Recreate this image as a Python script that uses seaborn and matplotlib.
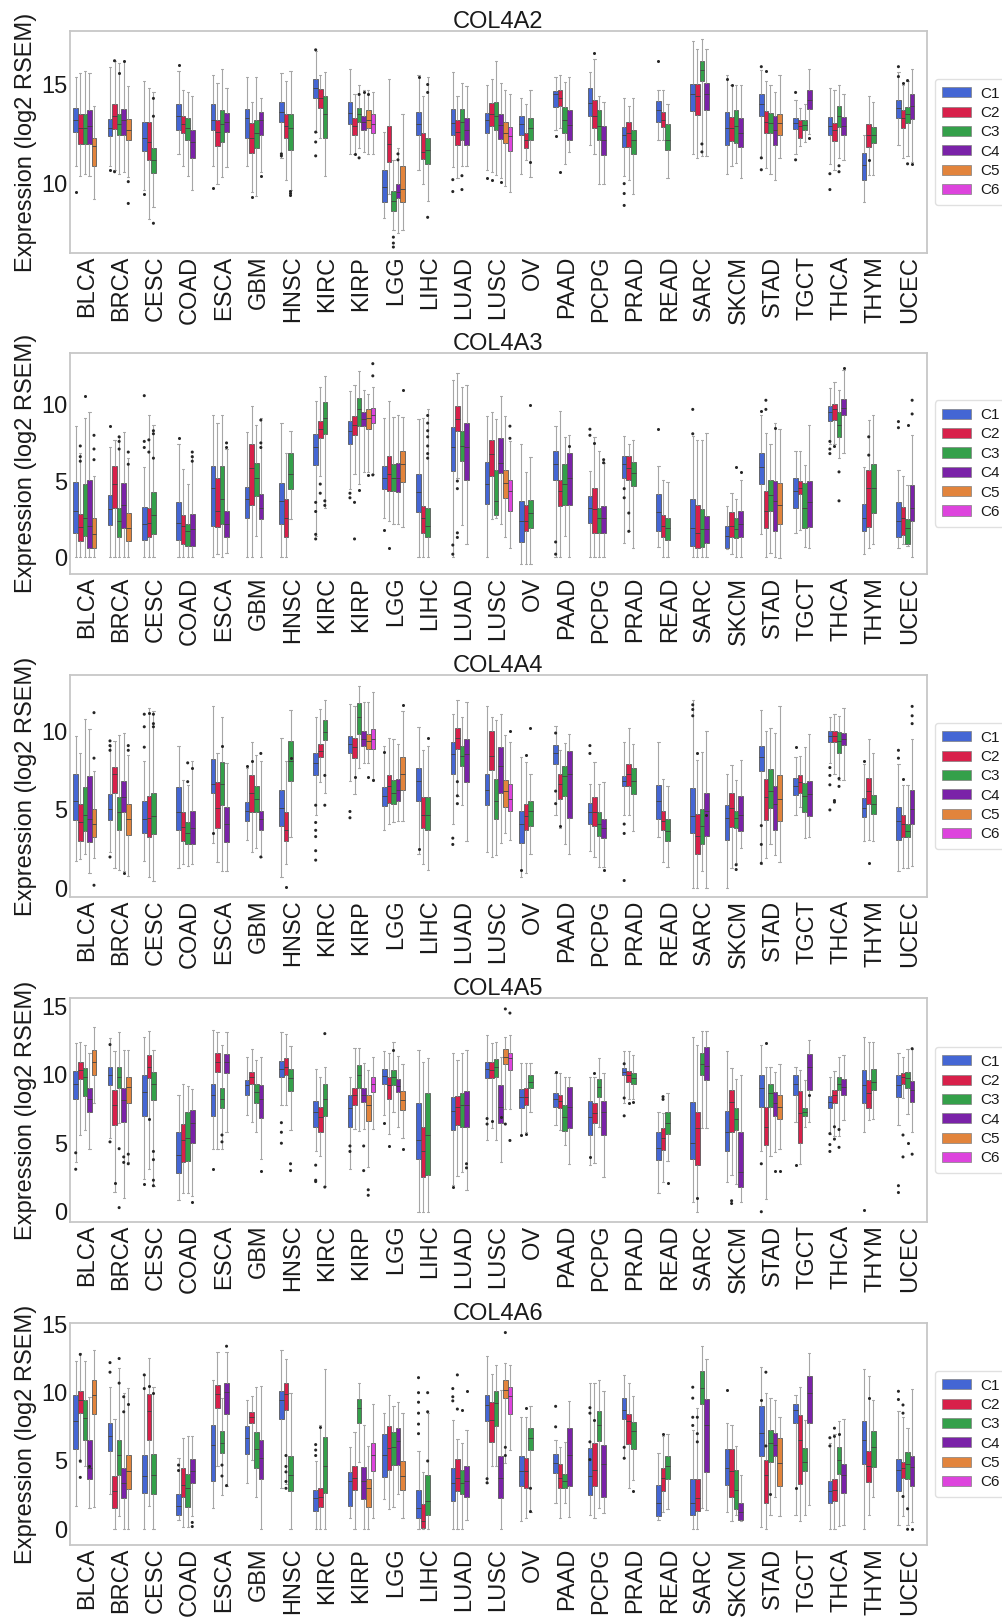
# Load libraries
import numpy as np
import pandas as pd
import seaborn as sns
import matplotlib
import matplotlib.pyplot as plt
from matplotlib.patches import Patch

matplotlib.use('Agg')

# Data
CANCERS = ['BLCA', 'BRCA', 'CESC', 'COAD', 'ESCA', 'GBM', 'HNSC', 'KIRC', 'KIRP',
           'LGG', 'LIHC', 'LUAD', 'LUSC', 'OV', 'PAAD', 'PCPG', 'PRAD', 'READ',
           'SARC', 'SKCM', 'STAD', 'TGCT', 'THCA', 'THYM', 'UCEC']
CLUSTERS = ['C1', 'C2', 'C3', 'C4', 'C5', 'C6']
COLORS = ['#4466d4', '#d8204a', '#34a04a', '#7a22a8', '#e2843c', '#dd44dd']
GENES = ['COL4A2', 'COL4A3', 'COL4A4', 'COL4A5', 'COL4A6']

# one list per cancer, one (lo, q1, median, q3, hi) tuple per cluster, C1 first
COL4A2_BOXES = [
    [(10.9, 12.6, 13.2, 13.8, 15.4), (10.4, 12.0, 12.8, 13.5, 15.6), (10.5, 12.0, 12.8, 13.5, 15.7), (10.4, 12.0, 12.9, 13.7, 15.6), (9.2, 10.9, 11.9, 12.3, 13.9)],
    [(10.9, 12.4, 12.8, 13.25, 15.9), (10.7, 12.75, 13.4, 14.0, 16.2), (10.5, 12.45, 13.0, 13.5, 16.1), (10.6, 12.45, 13.2, 13.75, 16.2), (10.35, 12.2, 12.7, 13.25, 14.9)],
    [(9.7, 11.65, 12.3, 13.1, 15.2), (8.2, 11.2, 12.1, 13.1, 14.8), (8.8, 10.55, 11.2, 11.8, 14.6)],
    [(11.5, 12.7, 13.4, 14.0, 15.7), (10.9, 12.55, 13.0, 13.4, 14.7), (10.4, 12.2, 12.8, 13.3, 14.6), (9.7, 11.3, 12.1, 12.7, 14.4)],
    [(10.9, 12.7, 13.2, 14.0, 15.5), (10.0, 11.9, 12.6, 13.2, 15.1), (10.35, 12.1, 13.0, 13.7, 15.8), (10.85, 12.6, 13.1, 13.55, 14.8)],
    [(10.9, 12.3, 13.3, 13.75, 15.4), (9.6, 11.55, 12.3, 13.05, 14.1), (9.4, 11.8, 12.55, 13.2, 15.4), (10.6, 12.45, 13.2, 13.6, 14.3)],
    [(11.3, 13.1, 13.6, 14.1, 15.6), (10.2, 12.3, 12.9, 13.5, 15.2), (9.7, 11.7, 12.8, 13.5, 15.7)],
    [(12.6, 14.3, 14.8, 15.3, 16.7), (12.3, 13.8, 14.3, 14.75, 15.5), (10.4, 12.3, 13.5, 14.4, 15.65)],
    [(11.5, 13.0, 13.55, 14.1, 15.8), (11.5, 12.45, 12.9, 13.3, 14.5), (11.8, 13.1, 13.5, 13.8, 15.0), (11.6, 12.7, 13.1, 13.4, 14.7), (11.5, 12.8, 13.2, 13.7, 14.7), (11.5, 12.55, 13.0, 13.5, 14.6)],
    [(8.25, 9.05, 9.85, 10.7, 12.6), (9.5, 11.1, 12.0, 12.9, 15.3), (7.65, 8.6, 9.1, 9.65, 11.2), (7.5, 9.25, 9.6, 10.0, 11.8), (7.65, 9.05, 9.75, 10.9, 13.5)],
    [(10.7, 12.45, 13.0, 13.6, 15.5), (10.0, 11.25, 11.6, 12.55, 14.4), (9.1, 11.0, 11.7, 12.3, 15.4)],
    [(10.85, 12.45, 13.05, 13.75, 15.65), (10.3, 11.95, 12.6, 13.2, 14.4), (10.9, 12.2, 13.1, 13.75, 15.1), (10.9, 11.95, 12.7, 13.3, 14.9)],
    [(10.7, 12.55, 13.2, 13.55, 15.0), (10.6, 12.9, 13.5, 14.05, 15.3), (10.45, 12.7, 13.4, 14.1, 16.2), (10.3, 12.25, 12.95, 13.5, 15.1), (9.9, 12.05, 12.55, 13.1, 14.7), (9.6, 11.65, 12.4, 12.85, 14.5)],
    [(10.5, 12.45, 13.0, 13.4, 14.3), (11.2, 11.8, 12.2, 12.55, 14.0), (10.35, 12.2, 12.8, 13.3, 14.7)],
    [(12.7, 13.85, 14.5, 14.65, 15.4), (12.8, 13.9, 14.3, 14.7, 15.5), (11.0, 12.55, 13.2, 13.85, 15.15), (11.6, 12.2, 12.95, 13.7, 15.4)],
    [(11.95, 13.4, 14.05, 14.8, 15.65), (11.5, 12.8, 13.4, 14.2, 16.3), (10.0, 12.2, 12.9, 13.7, 14.4), (10.0, 11.45, 12.2, 12.9, 14.1)],
    [(10.4, 11.85, 12.45, 12.85, 14.3), (10.2, 11.85, 12.55, 13.1, 13.9), (9.5, 11.5, 12.2, 12.7, 14.3)],
    [(12.2, 13.1, 13.7, 14.15, 14.7), (12.2, 12.85, 13.2, 13.6, 14.7), (10.3, 11.7, 12.2, 13.0, 14.0)],
    [(11.5, 13.65, 14.5, 15.05, 17.2), (11.3, 13.45, 14.4, 15.05, 16.8), (11.4, 15.2, 15.75, 16.2, 17.3), (11.4, 13.7, 14.5, 15.1, 16.8)],
    [(10.5, 11.95, 12.8, 13.6, 15.5), (10.9, 12.15, 12.8, 13.35, 15.0), (11.05, 12.05, 12.9, 13.7, 15.0), (10.3, 11.85, 12.55, 13.3, 15.0)],
    [(11.3, 13.4, 14.0, 14.5, 15.75), (10.8, 12.55, 13.1, 13.65, 15.2), (10.5, 12.55, 13.05, 13.55, 15.0), (10.2, 11.95, 12.7, 13.4, 14.6), (11.3, 12.45, 13.05, 13.5, 15.5)],
    [(11.5, 12.75, 13.05, 13.3, 14.2), (11.9, 12.3, 12.9, 13.2, 13.8), (12.1, 12.7, 12.95, 13.2, 14.0), (12.5, 13.75, 14.2, 14.7, 15.8)],
    [(11.0, 12.45, 12.9, 13.35, 14.8), (10.7, 12.15, 12.7, 13.05, 14.7), (11.3, 12.85, 13.4, 13.9, 15.0), (11.2, 12.45, 12.9, 13.35, 14.5)],
    [(9.05, 10.2, 10.95, 11.55, 12.45), (10.45, 11.85, 12.45, 13.0, 14.4), (10.45, 12.05, 12.45, 12.85, 14.1)],
    [(11.95, 13.3, 13.8, 14.2, 15.65), (11.3, 12.8, 13.3, 13.7, 15.0), (11.4, 13.05, 13.5, 13.85, 15.2), (11.1, 13.25, 13.9, 14.5, 15.8)],
]

COL4A3_BOXES = [
    [(0, 1.6, 3.05, 4.95, 8.6), (0, 1.05, 2.0, 2.85, 6.85), (0, 1.4, 2.6, 4.8, 9.15), (0, 0.6, 2.05, 5.05, 9.5), (0, 0.6, 1.5, 2.6, 5.3)],
    [(0, 2.1, 3.15, 4.1, 7.2), (0, 3.25, 4.8, 6.0, 7.7), (0, 1.35, 2.4, 3.25, 7.9), (0, 1.95, 3.45, 4.9, 8.2), (0, 1.05, 1.95, 2.9, 6.5)],
    [(0, 1.1, 2.15, 3.3, 5.9), (0, 1.3, 2.25, 3.25, 9.3), (0, 1.5, 2.8, 4.25, 8.7)],
    [(0, 1.1, 2.25, 3.65, 7.4), (0, 0.85, 2.05, 2.8, 5.8), (0, 0.75, 1.7, 2.2, 4.8), (0, 0.75, 1.85, 2.85, 6.6)],
    [(0, 2.05, 4.55, 6.0, 9.35), (0.2, 2.0, 3.05, 5.2, 8.8), (0, 2.15, 3.8, 6.0, 9.35), (0.3, 1.3, 2.15, 3.05, 7.1)],
    [(0, 2.6, 3.8, 4.6, 8.2), (0, 3.45, 5.85, 7.45, 9.9), (1.4, 4.0, 5.2, 6.2, 8.7), (0, 2.5, 3.25, 4.15, 9.15)],
    [(0, 2.15, 3.7, 4.9, 8.8), (0, 1.3, 2.6, 3.8, 6.85), (2.5, 4.5, 5.45, 6.85, 8.25)],
    [(1.4, 6.05, 7.2, 8.1, 10.25), (5.3, 7.8, 8.4, 8.95, 11.2), (3.25, 8.1, 9.15, 10.2, 11.9)],
    [(4.45, 7.4, 8.3, 8.95, 10.9), (5.45, 8.05, 8.7, 9.25, 11.3), (4.8, 8.6, 9.7, 10.45, 12.2), (5.6, 8.6, 9.05, 9.5, 11.0), (5.6, 8.4, 9.15, 9.7, 10.7), (5.45, 8.8, 9.35, 9.8, 11.2)],
    [(2.6, 4.45, 5.2, 6.0, 9.15), (2.4, 4.35, 5.45, 6.65, 10.25), (2.2, 4.35, 5.2, 6.1, 9.2), (2.2, 4.25, 5.2, 6.15, 9.3), (2.0, 4.95, 6.1, 7.0, 9.2)],
    [(0, 2.95, 4.25, 5.45, 9.05), (0, 1.6, 2.6, 3.35, 9.15), (0, 1.3, 2.05, 3.25, 9.7)],
    [(0, 5.65, 7.2, 8.55, 11.65), (5.2, 8.25, 9.05, 9.9, 12.1), (2.1, 6.3, 7.3, 8.25, 11.2), (0.85, 5.1, 7.2, 8.8, 11.3)],
    [(0, 3.5, 4.8, 6.25, 9.25), (2.5, 5.35, 6.75, 7.7, 9.5), (2.6, 2.75, 3.7, 5.7, 9.05), (2.2, 5.55, 6.2, 7.8, 10.55), (1.3, 3.9, 4.9, 5.7, 9.25), (0.6, 3.05, 4.35, 5.1, 7.6)],
    [(-0.45, 1.0, 2.4, 3.7, 7.4), (-0.45, 1.7, 2.4, 3.45, 5.6), (-0.45, 1.95, 2.9, 3.75, 6.6)],
    [(0, 5.05, 6.1, 6.95, 8.6), (0, 3.35, 4.35, 5.05, 9.6), (1.4, 3.45, 4.8, 6.1, 7.9), (0, 3.45, 5.2, 6.85, 8.0)],
    [(0, 2.25, 3.25, 4.0, 5.65), (0, 1.6, 3.15, 4.55, 7.9), (0, 1.6, 2.6, 3.2, 7.0), (0, 1.6, 2.6, 3.35, 6.2)],
    [(0.95, 5.2, 6.1, 6.65, 7.95), (1.7, 5.1, 5.85, 6.65, 7.4), (0.6, 4.65, 5.55, 6.25, 7.7)],
    [(0.65, 1.75, 2.95, 4.15, 6.0), (0, 1.3, 2.05, 2.8, 5.05), (0, 1.1, 1.95, 2.6, 4.95)],
    [(0, 0.75, 1.95, 3.8, 7.95), (0, 0.6, 1.6, 3.45, 7.7), (0, 0.65, 1.85, 3.15, 7.7), (0, 0.95, 1.85, 2.7, 8.15)],
    [(0.55, 0.6, 1.4, 2.05, 3.35), (0.2, 1.3, 2.05, 3.0, 4.2), (0, 1.25, 1.85, 2.6, 3.8), (0, 1.35, 2.15, 3.05, 5.1)],
    [(1.5, 4.8, 5.9, 6.85, 9.35), (0, 1.9, 3.05, 4.35, 8.15), (0.3, 3.05, 4.1, 5.1, 7.4), (0, 1.75, 3.7, 5.0, 8.8), (-0.05, 2.15, 3.45, 4.9, 8.4)],
    [(1.6, 3.2, 4.35, 5.2, 7.0), (1.8, 4.15, 4.55, 5.0, 7.0), (0.7, 1.95, 3.25, 4.9, 6.05), (0.6, 2.0, 3.6, 5.0, 8.7)],
    [(7.4, 8.95, 9.5, 9.9, 11.1), (7.4, 9.0, 9.7, 10.05, 11.5), (6.5, 7.9, 8.7, 9.5, 10.95), (6.85, 9.3, 9.8, 10.35, 12.3)],
    [(0.2, 1.7, 2.6, 3.5, 5.9), (0.6, 2.0, 4.55, 5.75, 9.0), (0.85, 2.9, 4.55, 6.1, 9.3)],
    [(0.6, 1.35, 2.4, 3.65, 5.75), (0.85, 1.45, 2.6, 3.3, 5.3), (0.75, 0.85, 1.95, 2.5, 4.75), (0, 2.4, 3.25, 4.75, 8.0)],
]

COL4A4_BOXES = [
    [(1.75, 4.35, 5.55, 7.3, 9.7), (1.85, 3.0, 4.2, 5.35, 8.65), (2.2, 3.65, 4.7, 6.45, 10.8), (1.0, 2.95, 4.4, 7.15, 10.15), (1.95, 3.25, 4.1, 5.05, 7.5)],
    [(2.3, 4.35, 5.05, 6.0, 9.1), (1.3, 6.1, 7.3, 7.75, 9.4), (1.2, 3.75, 4.85, 5.85, 9.8), (1.1, 4.85, 5.8, 6.85, 9.9), (0.8, 3.4, 4.4, 5.35, 8.5)],
    [(1.75, 3.5, 4.4, 5.55, 8.1), (0.7, 3.25, 4.5, 5.9, 11.5), (0.5, 3.45, 4.6, 6.05, 11.3)],
    [(1.3, 3.75, 4.85, 6.45, 9.1), (1.55, 3.0, 3.9, 4.85, 6.9), (1.45, 2.8, 3.55, 4.25, 6.6), (1.55, 2.8, 3.85, 4.95, 8.1)],
    [(2.9, 6.1, 6.65, 8.25, 11.6), (1.7, 3.85, 5.15, 6.75, 8.6), (1.1, 5.3, 6.65, 8.05, 10.9), (1.1, 2.95, 4.1, 5.2, 8.0)],
    [(3.1, 4.3, 4.95, 5.5, 7.7), (2.35, 4.85, 6.1, 7.25, 9.3), (2.55, 4.85, 5.7, 6.55, 8.5), (2.0, 3.75, 4.4, 4.95, 8.1)],
    [(0.7, 4.0, 5.15, 6.3, 9.6), (1.55, 3.0, 3.75, 4.85, 8.1), (3.25, 6.85, 8.1, 9.4, 11.4)],
    [(4.7, 7.25, 8.0, 8.65, 10.9), (6.8, 8.4, 8.75, 9.2, 11.45), (6.1, 9.45, 9.95, 10.7, 12.0)],
    [(6.85, 8.65, 9.2, 9.7, 11.75), (6.0, 8.3, 9.0, 9.6, 11.65), (7.7, 9.85, 10.9, 11.8, 12.9), (8.0, 9.1, 9.55, 10.05, 11.9), (8.0, 8.9, 9.4, 9.85, 11.9), (7.0, 8.9, 9.5, 10.15, 12.5)],
    [(3.75, 5.25, 5.9, 6.45, 9.1), (4.1, 5.45, 6.55, 7.25, 9.6), (4.2, 5.35, 6.1, 6.9, 9.5), (4.3, 5.6, 6.25, 7.0, 9.2), (4.3, 6.25, 7.3, 8.35, 11.3)],
    [(2.2, 5.55, 6.85, 7.7, 10.3), (1.55, 3.85, 4.7, 5.8, 8.8), (1.2, 3.7, 4.7, 5.85, 9.1)],
    [(4.1, 7.3, 8.55, 9.35, 11.1), (5.9, 8.9, 9.6, 10.2, 12.0), (5.3, 7.8, 8.45, 9.1, 10.9), (3.0, 6.75, 8.55, 9.5, 11.9)],
    [(2.3, 5.3, 6.3, 7.3, 11.6), (2.0, 7.55, 8.45, 10.0, 10.95), (2.1, 4.4, 5.6, 7.0, 10.7), (2.9, 6.05, 7.8, 9.0, 11.1), (3.5, 5.2, 6.2, 6.9, 9.8), (3.1, 4.9, 5.7, 6.65, 9.35)],
    [(0.7, 2.9, 4.1, 4.95, 8.35), (1.0, 3.7, 4.6, 5.35, 8.05), (2.2, 4.0, 4.95, 5.6, 7.3)],
    [(4.7, 7.9, 8.65, 9.15, 10.35), (3.85, 5.7, 6.65, 7.3, 8.8), (2.8, 5.9, 7.15, 7.8, 9.25), (2.2, 4.5, 7.3, 8.75, 9.85)],
    [(2.4, 4.1, 4.85, 5.45, 6.65), (2.0, 3.95, 4.85, 5.8, 8.05), (1.35, 3.35, 4.1, 4.85, 6.65), (1.35, 3.2, 3.85, 4.4, 6.75)],
    [(4.7, 6.55, 6.85, 7.15, 9.3), (4.7, 6.55, 7.3, 7.9, 10.2), (3.65, 6.0, 6.85, 7.7, 9.2)],
    [(3.25, 4.4, 5.6, 6.6, 9.3), (1.7, 3.7, 4.3, 4.95, 7.0), (1.35, 3.05, 3.65, 4.45, 6.5)],
    [(0, 3.5, 4.6, 6.4, 12.0), (0, 2.2, 3.35, 4.75, 8.2), (1.1, 2.8, 4.0, 5.05, 8.7), (0, 3.35, 4.95, 6.1, 10.0)],
    [(0, 3.1, 4.5, 5.3, 7.3), (1.3, 3.9, 5.15, 6.05, 7.85), (1.6, 3.85, 4.5, 4.95, 6.9), (2.6, 3.65, 4.7, 5.9, 8.2)],
    [(1.55, 7.5, 8.35, 9.1, 11.4), (1.95, 4.35, 5.8, 6.95, 10.0), (2.8, 5.15, 6.2, 7.6, 10.2), (2.1, 3.75, 5.35, 6.55, 9.9), (1.65, 4.3, 5.7, 7.25, 11.6)],
    [(4.7, 5.95, 6.5, 7.05, 8.35), (5.2, 6.1, 6.75, 7.25, 8.45), (3.2, 4.85, 5.9, 6.7, 9.0), (3.25, 4.6, 6.0, 6.85, 9.85)],
    [(8.0, 9.3, 9.7, 10.05, 10.9), (7.3, 9.3, 9.7, 10.05, 11.1), (6.9, 8.65, 9.4, 9.95, 11.0), (6.9, 9.15, 9.5, 9.9, 11.5)],
    [(3.0, 4.55, 5.15, 5.75, 7.9), (3.1, 5.35, 6.2, 7.05, 9.5), (3.0, 4.75, 5.35, 5.95, 8.6)],
    [(1.1, 3.1, 4.3, 5.2, 7.9), (1.3, 3.3, 4.1, 4.7, 6.6), (1.3, 3.25, 3.65, 4.1, 6.6), (1.4, 4.1, 5.05, 6.3, 9.5)],
]

COL4A5_BOXES = [
    [(3.65, 8.2, 9.35, 10.25, 12.3), (5.6, 9.7, 10.35, 10.9, 12.4), (5.95, 8.45, 9.8, 10.5, 12.15), (4.6, 7.25, 8.25, 9.0, 11.55), (7.9, 9.95, 10.9, 11.8, 13.5)],
    [(5.35, 9.25, 10.0, 10.6, 12.65), (1.45, 6.35, 7.8, 8.9, 11.7), (6.5, 9.0, 9.85, 10.6, 13.1), (1.0, 6.55, 8.15, 9.0, 11.8), (3.6, 7.9, 9.1, 9.8, 11.8)],
    [(2.4, 7.0, 8.75, 10.0, 12.75), (3.1, 9.75, 10.6, 11.45, 13.2), (1.9, 8.15, 9.35, 10.2, 11.8)],
    [(0.85, 2.8, 4.15, 5.8, 8.5), (1.4, 3.65, 5.25, 6.4, 9.3), (1.4, 3.7, 5.35, 7.25, 9.2), (1.15, 5.05, 6.45, 7.4, 8.95)],
    [(4.6, 7.0, 8.55, 9.3, 13.25), (4.6, 10.2, 10.9, 11.55, 13.1), (4.6, 7.6, 8.25, 9.0, 12.2), (5.8, 10.15, 10.9, 11.5, 13.1)],
    [(7.05, 8.5, 9.25, 9.6, 11.3), (6.55, 9.35, 9.85, 10.2, 11.9), (5.8, 7.9, 8.75, 9.35, 11.05), (3.85, 6.85, 8.25, 9.25, 11.3)],
    [(7.8, 9.8, 10.45, 11.0, 13.15), (7.8, 9.95, 10.6, 11.2, 13.0), (5.95, 8.8, 9.75, 10.4, 12.1)],
    [(4.4, 6.2, 7.3, 8.1, 10.45), (4.1, 5.8, 6.95, 7.65, 9.8), (1.9, 7.0, 8.25, 9.3, 10.55)],
    [(3.15, 6.2, 7.55, 8.5, 9.85), (6.05, 7.8, 8.5, 9.0, 11.95), (5.9, 9.05, 10.0, 10.7, 11.95), (6.05, 8.0, 8.5, 9.0, 10.85), (3.25, 6.6, 7.8, 8.55, 10.35), (6.05, 8.75, 9.35, 9.85, 11.3)],
    [(7.05, 9.35, 9.9, 10.4, 11.7), (5.7, 8.25, 9.25, 9.85, 11.6), (7.3, 9.25, 9.85, 10.35, 12.4), (6.2, 8.75, 9.2, 9.7, 11.4), (5.4, 7.4, 8.15, 8.8, 10.8)],
    [(0, 3.85, 5.25, 7.9, 11.8), (0, 2.55, 4.45, 6.2, 10.95), (0, 2.65, 5.6, 8.7, 11.2)],
    [(1.95, 5.95, 7.35, 8.4, 11.55), (2.6, 6.3, 7.65, 8.45, 11.1), (2.9, 6.2, 7.8, 8.65, 11.55), (1.55, 6.15, 7.8, 8.8, 11.8)],
    [(5.25, 9.75, 10.45, 10.9, 12.9), (6.1, 9.75, 10.35, 10.9, 12.3), (5.25, 9.8, 10.6, 11.15, 12.4), (3.65, 6.45, 7.65, 9.25, 11.3), (7.5, 10.75, 11.3, 11.85, 12.75), (7.5, 10.35, 11.2, 11.6, 12.9)],
    [(5.6, 7.6, 8.4, 8.95, 10.85), (5.8, 7.8, 8.4, 9.0, 10.85), (7.3, 9.05, 9.5, 10.0, 10.85)],
    [(6.3, 7.65, 8.25, 8.65, 10.1), (5.95, 7.6, 8.05, 8.5, 10.1), (4.9, 5.9, 6.95, 7.8, 9.85), (3.45, 6.1, 7.65, 9.1, 9.85)],
    [(3.4, 5.6, 6.95, 8.05, 9.85), (3.55, 6.45, 7.2, 7.9, 9.85), (6.2, 8.4, 9.1, 9.7, 11.2), (2.5, 5.6, 7.3, 8.1, 10.1)],
    [(7.9, 9.95, 10.2, 10.5, 11.7), (8.25, 9.45, 9.95, 10.25, 11.7), (8.25, 9.35, 9.75, 10.1, 11.45)],
    [(1.35, 3.75, 4.65, 5.85, 7.3), (2.2, 4.5, 5.35, 6.1, 7.2), (3.7, 5.65, 6.45, 7.25, 8.7)],
    [(0.7, 3.85, 5.05, 8.0, 12.75), (0, 3.4, 6.1, 7.3, 12.2), (6.1, 9.95, 10.8, 11.55, 13.2), (6.1, 9.6, 10.65, 12.05, 13.2)],
    [(2.2, 4.4, 5.85, 7.35, 11.7), (2.7, 5.85, 8.0, 8.9, 10.5), (2.0, 5.95, 6.8, 7.6, 9.7), (0.7, 1.8, 2.9, 5.8, 9.95)],
    [(4.4, 7.65, 9.0, 10.0, 12.15), (0.9, 4.85, 6.2, 7.65, 10.55), (4.1, 7.65, 8.65, 9.35, 10.55), (4.35, 7.0, 7.9, 8.75, 10.2), (4.6, 6.75, 7.65, 8.55, 10.8)],
    [(6.55, 8.55, 9.35, 9.95, 10.6), (3.5, 5.0, 7.2, 8.8, 10.35), (6.2, 7.0, 7.25, 7.55, 9.65), (6.55, 8.9, 10.6, 11.5, 12.5)],
    [(5.7, 7.55, 8.0, 8.45, 9.85), (5.5, 7.9, 8.55, 8.9, 10.3), (5.5, 8.9, 9.35, 9.8, 11.3), (6.7, 8.55, 9.1, 9.7, 11.45)],
    [(5.85, 7.9, 9.25, 10.35, 12.75), (6.7, 7.6, 8.65, 9.6, 12.4), (6.8, 8.9, 9.5, 10.45, 12.4)],
    [(6.3, 8.4, 9.25, 9.95, 11.55), (8.3, 9.3, 9.8, 10.1, 11.3), (7.1, 9.0, 9.75, 10.2, 11.9), (5.85, 8.0, 8.9, 9.55, 11.9)],
]

COL4A6_BOXES = [
    [(1.7, 5.85, 7.95, 9.85, 12.3), (4.95, 8.5, 9.5, 10.15, 12.9), (4.6, 6.5, 8.15, 9.5, 12.3), (1.55, 3.65, 4.45, 6.55, 9.7), (1.6, 8.45, 9.85, 10.95, 13.15)],
    [(2.55, 5.7, 6.8, 7.8, 10.45), (0, 1.55, 2.8, 3.9, 8.1), (1.0, 3.95, 5.45, 6.55, 11.8), (0, 2.3, 3.4, 4.5, 10.0), (0, 2.95, 4.25, 5.45, 10.35)],
    [(0, 2.65, 3.9, 5.45, 11.3), (1.7, 6.55, 8.65, 9.9, 12.55), (0, 2.6, 3.95, 5.5, 10.45)],
    [(0.7, 1.05, 1.7, 2.6, 5.2), (0.2, 2.35, 3.25, 4.45, 6.7), (0.2, 1.6, 3.0, 4.05, 6.8), (0.95, 3.4, 4.25, 5.15, 6.8)],
    [(1.55, 3.55, 6.2, 7.6, 10.95), (4.6, 8.9, 9.9, 10.55, 13.0), (2.5, 5.6, 6.3, 7.2, 9.6), (3.2, 8.45, 10.05, 10.7, 13.0)],
    [(3.4, 5.5, 6.65, 7.55, 9.5), (5.1, 7.8, 8.2, 8.55, 9.75), (2.4, 4.45, 5.9, 7.15, 10.45), (0, 3.65, 5.2, 6.55, 10.5)],
    [(3.0, 8.1, 9.5, 10.15, 13.15), (3.3, 8.75, 9.9, 10.7, 12.5), (0, 2.8, 4.0, 5.35, 10.0)],
    [(0, 1.35, 2.3, 2.9, 5.0), (0, 1.6, 2.35, 3.0, 7.6), (0, 2.65, 4.6, 6.75, 11.75)],
    [(0.8, 1.7, 3.5, 4.2, 6.05), (0, 2.85, 3.75, 4.6, 7.1), (4.9, 7.8, 8.9, 9.55, 10.7), (0, 2.25, 3.5, 4.55, 7.6), (0, 1.6, 3.0, 3.65, 6.1), (0.8, 4.25, 5.45, 6.3, 9.2)],
    [(2.2, 3.8, 5.45, 6.95, 8.5), (1.5, 4.35, 5.95, 7.55, 9.85), (1.6, 4.7, 6.05, 7.1, 9.0), (2.6, 4.7, 6.45, 7.4, 9.3), (0.8, 2.9, 3.9, 5.0, 8.5)],
    [(0, 0.8, 1.55, 2.85, 5.7), (0, 0.1, 0.6, 1.85, 4.2), (0, 1.05, 2.05, 3.95, 8.5)],
    [(0, 2.05, 3.4, 4.5, 8.0), (0, 2.8, 3.75, 5.15, 6.6), (0, 2.55, 3.4, 4.35, 6.3), (0.7, 2.35, 3.5, 4.6, 7.3)],
    [(3.4, 7.9, 9.1, 9.85, 12.65), (4.6, 6.4, 8.0, 9.3, 11.4), (4.6, 7.55, 9.25, 10.15, 12.0), (0, 2.3, 3.75, 5.35, 10.2), (4.85, 9.6, 10.2, 10.95, 12.2), (5.8, 8.45, 9.75, 10.45, 12.0)],
    [(0.6, 3.15, 4.25, 5.35, 8.25), (0.85, 3.0, 4.25, 5.2, 8.25), (1.3, 5.8, 6.7, 7.4, 9.0)],
    [(1.9, 4.1, 4.85, 5.5, 6.55), (0.8, 3.05, 3.75, 4.75, 6.05), (1.9, 3.0, 3.5, 4.05, 6.4), (0.9, 3.15, 5.45, 7.4, 9.4)],
    [(1.05, 2.5, 3.9, 5.95, 10.7), (0.8, 3.15, 4.35, 6.3, 10.7), (1.55, 6.45, 7.65, 8.65, 10.95), (1.2, 2.35, 4.75, 6.2, 10.1)],
    [(5.2, 8.1, 8.75, 9.6, 11.3), (3.0, 6.25, 7.9, 8.45, 10.7), (3.6, 5.9, 7.2, 7.85, 9.75)],
    [(0.7, 0.95, 1.95, 3.25, 5.6), (1.3, 2.8, 3.75, 4.45, 6.8), (1.45, 3.65, 4.6, 5.35, 6.95)],
    [(0, 1.05, 1.95, 3.65, 7.3), (0, 1.35, 2.3, 3.65, 8.85), (1.55, 9.15, 10.35, 11.55, 13.4), (1.4, 4.2, 7.65, 9.55, 12.5)],
    [(1.3, 3.25, 4.5, 5.85, 7.8), (0.6, 2.35, 4.25, 5.85, 7.65), (1.05, 1.45, 2.9, 4.35, 6.1), (0.6, 0.7, 1.3, 1.95, 4.0)],
    [(0.2, 5.35, 7.05, 9.0, 11.9), (0, 1.9, 4.0, 5.1, 10.0), (1.05, 4.95, 6.3, 7.3, 9.6), (2.4, 5.35, 6.2, 7.05, 9.5), (0.95, 3.2, 4.85, 6.65, 8.2)],
    [(1.05, 7.8, 8.75, 9.2, 9.85), (0.6, 3.3, 6.55, 8.4, 10.45), (1.05, 4.25, 4.95, 5.95, 8.0), (1.8, 7.8, 10.0, 11.2, 12.9)],
    [(0, 1.95, 2.8, 3.5, 6.3), (0, 2.05, 2.9, 3.65, 7.0), (0.25, 4.05, 5.1, 6.0, 7.9), (0.35, 2.65, 4.0, 4.8, 8.05)],
    [(0, 4.75, 6.55, 7.95, 11.7), (1.05, 3.45, 4.6, 5.75, 11.2), (2.4, 4.55, 6.05, 7.2, 9.5)],
    [(0.35, 2.8, 4.35, 5.15, 8.65), (1.0, 3.75, 4.5, 4.95, 8.2), (0.3, 3.7, 4.75, 5.65, 7.4), (0.5, 3.2, 4.55, 5.35, 10.3)],
]

# outliers as (cancer, cluster, value)
COL4A2_FLIERS = [
    ('BLCA', 'C1', 9.6), ('BRCA', 'C1', 10.7), ('BRCA', 'C2', 10.6), ('BRCA', 'C2', 16.2),
    ('BRCA', 'C4', 16.2), ('BRCA', 'C5', 9.0), ('BRCA', 'C5', 10.1), ('BRCA', 'C3', 15.6),
    ('CESC', 'C1', 9.5), ('CESC', 'C3', 8.0), ('CESC', 'C3', 14.3), ('CESC', 'C3', 13.4),
    ('COAD', 'C1', 16.0), ('ESCA', 'C1', 9.8), ('GBM', 'C2', 9.3), ('GBM', 'C4', 10.4),
    ('HNSC', 'C1', 11.5), ('HNSC', 'C1', 11.4), ('HNSC', 'C3', 9.6), ('HNSC', 'C3', 9.5),
    ('HNSC', 'C3', 9.4), ('KIRC', 'C1', 16.75), ('KIRC', 'C1', 12.6), ('KIRC', 'C1', 12.1),
    ('KIRC', 'C1', 11.4), ('KIRP', 'C3', 14.5), ('KIRP', 'C4', 14.6), ('KIRP', 'C5', 14.5),
    ('KIRP', 'C2', 11.5), ('KIRP', 'C3', 11.3), ('LGG', 'C3', 7.0), ('LGG', 'C3', 7.3),
    ('LGG', 'C4', 11.5), ('LGG', 'C4', 11.2), ('LGG', 'C3', 6.8), ('LIHC', 'C1', 15.4),
    ('LIHC', 'C3', 15.0), ('LIHC', 'C3', 14.6), ('LIHC', 'C3', 8.3), ('LUAD', 'C1', 10.2),
    ('LUAD', 'C1', 9.6), ('LUAD', 'C3', 10.4), ('LUAD', 'C3', 9.7), ('LUSC', 'C1', 10.3),
    ('LUSC', 'C2', 10.2), ('LUSC', 'C4', 10.1), ('OV', 'C3', 11.1), ('PAAD', 'C1', 12.4),
    ('PAAD', 'C2', 10.6), ('PCPG', 'C2', 16.6), ('PRAD', 'C1', 10.0), ('PRAD', 'C1', 9.5),
    ('PRAD', 'C1', 8.9), ('READ', 'C1', 16.2), ('SARC', 'C3', 12.0), ('SARC', 'C3', 11.6),
    ('SKCM', 'C1', 15.3), ('SKCM', 'C2', 15.0), ('STAD', 'C1', 15.9), ('STAD', 'C1', 11.3),
    ('STAD', 'C1', 10.7), ('STAD', 'C2', 15.7), ('TGCT', 'C1', 14.6), ('TGCT', 'C1', 11.2),
    ('TGCT', 'C4', 12.3), ('THCA', 'C1', 10.5), ('THCA', 'C1', 9.7), ('THCA', 'C3', 10.9),
    ('THCA', 'C3', 10.6), ('THYM', 'C2', 11.2), ('UCEC', 'C1', 15.9), ('UCEC', 'C2', 15.1),
    ('UCEC', 'C1', 15.4), ('UCEC', 'C3', 15.2), ('UCEC', 'C3', 11.0), ('UCEC', 'C4', 11.0),
]

COL4A3_FLIERS = [
    ('BLCA', 'C3', 10.6), ('BLCA', 'C2', 6.6), ('BLCA', 'C2', 6.3), ('BLCA', 'C2', 7.3),
    ('BLCA', 'C5', 8.0), ('BLCA', 'C5', 7.1), ('BLCA', 'C5', 6.4), ('BRCA', 'C1', 8.6),
    ('BRCA', 'C3', 7.6), ('BRCA', 'C3', 7.9), ('BRCA', 'C3', 7.1), ('BRCA', 'C5', 6.9),
    ('BRCA', 'C5', 6.1), ('CESC', 'C1', 10.6), ('CESC', 'C1', 7.6), ('CESC', 'C1', 7.2),
    ('CESC', 'C2', 6.9), ('CESC', 'C2', 7.7), ('CESC', 'C3', 8.1), ('CESC', 'C3', 8.3),
    ('CESC', 'C3', 6.5), ('COAD', 'C1', 7.8), ('COAD', 'C4', 6.9), ('COAD', 'C4', 6.6),
    ('COAD', 'C4', 6.3), ('ESCA', 'C4', 7.5), ('ESCA', 'C4', 7.2), ('GBM', 'C4', 9.0),
    ('GBM', 'C4', 7.5), ('GBM', 'C4', 7.2), ('KIRC', 'C1', 3.0), ('KIRC', 'C1', 1.5),
    ('KIRC', 'C1', 1.2), ('KIRC', 'C1', 3.6), ('KIRC', 'C2', 4.8), ('KIRC', 'C2', 4.2),
    ('KIRC', 'C3', 3.7), ('KIRC', 'C3', 3.4), ('KIRP', 'C1', 4.2), ('KIRP', 'C1', 3.9),
    ('KIRP', 'C2', 3.6), ('KIRP', 'C2', 1.2), ('KIRP', 'C3', 4.4), ('KIRP', 'C6', 12.7),
    ('KIRP', 'C6', 11.9), ('KIRP', 'C5', 5.4), ('KIRP', 'C6', 5.4), ('LGG', 'C1', 1.8),
    ('LGG', 'C2', 0.6), ('LGG', 'C5', 11.0), ('LIHC', 'C3', 9.3), ('LIHC', 'C3', 8.8),
    ('LIHC', 'C3', 8.3), ('LIHC', 'C3', 7.9), ('LIHC', 'C3', 7.3), ('LIHC', 'C3', 6.8),
    ('LIHC', 'C3', 6.5), ('LUAD', 'C1', 0.8), ('LUAD', 'C1', 0.2), ('LUAD', 'C2', 5.0),
    ('LUAD', 'C2', 4.5), ('LUAD', 'C2', 1.6), ('LUAD', 'C2', 1.3), ('LUSC', 'C6', 8.6),
    ('LUSC', 'C6', 7.8), ('OV', 'C3', 10.0), ('PAAD', 'C1', 1.0), ('PAAD', 'C1', 0.2),
    ('PAAD', 'C4', 7.3), ('PCPG', 'C1', 8.4), ('PCPG', 'C1', 8.0), ('PCPG', 'C2', 7.5),
    ('PCPG', 'C4', 6.4), ('PCPG', 'C4', 6.2), ('PRAD', 'C1', 4.5), ('PRAD', 'C1', 3.9),
    ('PRAD', 'C2', 2.9), ('PRAD', 'C2', 1.7), ('READ', 'C1', 8.4), ('SARC', 'C1', 9.7),
    ('SARC', 'C1', 8.1), ('SKCM', 'C3', 5.9), ('SKCM', 'C4', 5.6), ('STAD', 'C1', 9.6),
    ('STAD', 'C2', 9.7), ('STAD', 'C2', 10.3), ('STAD', 'C4', 8.5), ('THCA', 'C1', 7.6),
    ('THCA', 'C1', 7.1), ('THCA', 'C1', 6.8), ('THCA', 'C2', 7.3), ('THCA', 'C3', 5.6),
    ('THCA', 'C3', 3.7), ('THCA', 'C4', 12.4), ('THYM', 'C2', 7.9), ('THYM', 'C2', 6.7),
    ('UCEC', 'C1', 8.9), ('UCEC', 'C1', 8.5), ('UCEC', 'C3', 8.7), ('UCEC', 'C4', 10.3),
    ('UCEC', 'C4', 9.4),
]

COL4A4_FLIERS = [
    ('BLCA', 'C5', 11.2), ('BLCA', 'C5', 0.2), ('BLCA', 'C5', 8.3), ('BRCA', 'C1', 9.4),
    ('BRCA', 'C1', 9.1), ('BRCA', 'C1', 8.8), ('BRCA', 'C1', 2.0), ('BRCA', 'C4', 1.0),
    ('BRCA', 'C5', 9.1), ('BRCA', 'C5', 8.8), ('CESC', 'C1', 11.1), ('CESC', 'C1', 10.3),
    ('CESC', 'C1', 9.0), ('CESC', 'C2', 11.2), ('CESC', 'C3', 11.1), ('CESC', 'C3', 10.5),
    ('CESC', 'C3', 10.3), ('COAD', 'C3', 8.0), ('COAD', 'C4', 7.7), ('COAD', 'C3', 6.8),
    ('ESCA', 'C1', 3.5), ('ESCA', 'C3', 9.1), ('GBM', 'C1', 7.8), ('GBM', 'C2', 8.1),
    ('GBM', 'C4', 2.0), ('GBM', 'C4', 8.6), ('HNSC', 'C2', 0.1), ('HNSC', 'C3', 8.3),
    ('KIRC', 'C1', 5.3), ('KIRC', 'C1', 4.2), ('KIRC', 'C1', 3.7), ('KIRC', 'C1', 3.3),
    ('KIRC', 'C1', 2.4), ('KIRC', 'C1', 1.8), ('KIRC', 'C3', 7.2), ('KIRC', 'C3', 5.3),
    ('KIRP', 'C1', 4.9), ('KIRP', 'C1', 4.5), ('KIRP', 'C2', 7.1), ('KIRP', 'C5', 7.1),
    ('KIRP', 'C6', 6.9), ('LGG', 'C1', 8.7), ('LGG', 'C5', 11.7), ('LIHC', 'C1', 2.5),
    ('LIHC', 'C3', 9.6), ('LUAD', 'C1', 3.2), ('LUAD', 'C1', 2.8), ('LUAD', 'C2', 6.8),
    ('LUAD', 'C2', 5.9), ('LUAD', 'C2', 5.4), ('LUSC', 'C6', 10.0), ('OV', 'C1', 1.2),
    ('OV', 'C3', 10.2), ('OV', 'C2', 8.5), ('PAAD', 'C1', 9.9), ('PAAD', 'C1', 6.2),
    ('PAAD', 'C1', 5.4), ('PAAD', 'C2', 4.0), ('PCPG', 'C1', 8.6), ('PCPG', 'C1', 9.1),
    ('PCPG', 'C4', 1.2), ('PRAD', 'C1', 0.5), ('PRAD', 'C1', 4.1), ('PRAD', 'C1', 3.5),
    ('SARC', 'C1', 11.7), ('SARC', 'C1', 11.4), ('SARC', 'C1', 11.0), ('SARC', 'C2', 8.6),
    ('SARC', 'C4', 4.7), ('SKCM', 'C3', 1.5), ('SKCM', 'C3', 1.2), ('STAD', 'C1', 2.8),
    ('STAD', 'C1', 1.6), ('STAD', 'C1', 4.0), ('TGCT', 'C1', 9.0), ('THCA', 'C1', 7.7),
    ('THCA', 'C1', 7.2), ('THCA', 'C1', 6.6), ('THCA', 'C2', 5.5), ('THCA', 'C3', 7.0),
    ('THCA', 'C3', 6.5), ('THCA', 'C2', 5.6), ('THCA', 'C1', 5.0), ('THYM', 'C1', 8.1),
    ('THYM', 'C2', 1.6), ('UCEC', 'C1', 8.8), ('UCEC', 'C1', 8.3), ('UCEC', 'C2', 7.0),
    ('UCEC', 'C4', 11.6), ('UCEC', 'C4', 11.0), ('UCEC', 'C4', 10.5),
]

COL4A5_FLIERS = [
    ('BLCA', 'C1', 4.3), ('BLCA', 'C1', 3.1), ('BRCA', 'C1', 12.2), ('BRCA', 'C1', 5.1),
    ('BRCA', 'C2', 2.1), ('BRCA', 'C3', 0.3), ('BRCA', 'C3', 4.6), ('BRCA', 'C4', 4.0),
    ('BRCA', 'C4', 3.6), ('BRCA', 'C5', 4.2), ('BRCA', 'C5', 3.5), ('CESC', 'C1', 2.0),
    ('CESC', 'C2', 6.8), ('CESC', 'C3', 4.4), ('CESC', 'C3', 3.8), ('CESC', 'C3', 2.3),
    ('CESC', 'C3', 1.9), ('COAD', 'C4', 0.7), ('ESCA', 'C1', 3.1), ('ESCA', 'C3', 5.6),
    ('ESCA', 'C3', 5.1), ('GBM', 'C4', 3.0), ('HNSC', 'C1', 6.5), ('HNSC', 'C1', 5.8),
    ('HNSC', 'C1', 5.0), ('HNSC', 'C3', 3.5), ('HNSC', 'C3', 3.0), ('KIRC', 'C1', 3.4),
    ('KIRC', 'C1', 2.3), ('KIRC', 'C1', 2.2), ('KIRC', 'C3', 13.0), ('KIRC', 'C3', 1.8),
    ('KIRP', 'C1', 4.8), ('KIRP', 'C1', 4.4), ('KIRP', 'C4', 4.8), ('KIRP', 'C4', 3.0),
    ('KIRP', 'C5', 1.6), ('KIRP', 'C5', 1.2), ('LGG', 'C1', 6.5), ('LGG', 'C2', 4.8),
    ('LGG', 'C3', 11.8), ('LGG', 'C5', 4.6), ('LUAD', 'C1', 1.8), ('LUAD', 'C4', 3.5),
    ('LUAD', 'C4', 3.2), ('LUSC', 'C1', 6.8), ('LUSC', 'C1', 6.4), ('LUSC', 'C2', 6.6),
    ('LUSC', 'C4', 6.9), ('LUSC', 'C5', 14.8), ('LUSC', 'C6', 14.5), ('LUSC', 'C6', 5.2),
    ('LUSC', 'C5', 6.4), ('OV', 'C2', 5.7), ('OV', 'C1', 5.6), ('PAAD', 'C1', 10.2),
    ('PCPG', 'C2', 10.1), ('PCPG', 'C1', 4.0), ('PRAD', 'C1', 10.8), ('PRAD', 'C1', 8.3),
    ('PRAD', 'C1', 7.0), ('PRAD', 'C2', 7.9), ('PRAD', 'C3', 8.0), ('READ', 'C2', 8.4),
    ('READ', 'C2', 8.2), ('READ', 'C3', 2.1), ('SARC', 'C2', 1.0), ('SKCM', 'C2', 0.6),
    ('SKCM', 'C2', 0.8), ('STAD', 'C1', 0.0), ('STAD', 'C1', 3.5), ('STAD', 'C2', 12.3),
    ('STAD', 'C4', 3.0), ('STAD', 'C5', 3.0), ('TGCT', 'C1', 3.4), ('TGCT', 'C4', 8.5),
    ('THCA', 'C1', 5.7), ('THCA', 'C1', 4.9), ('THCA', 'C1', 4.4), ('THCA', 'C2', 6.2),
    ('THCA', 'C2', 5.3), ('THCA', 'C3', 6.0), ('THCA', 'C3', 4.7), ('THYM', 'C1', 0.1),
    ('UCEC', 'C1', 1.9), ('UCEC', 'C1', 1.4), ('UCEC', 'C2', 4.0), ('UCEC', 'C2', 5.6),
    ('UCEC', 'C3', 5.0), ('UCEC', 'C4', 4.2), ('UCEC', 'C4', 11.9),
]

COL4A6_FLIERS = [
    ('BLCA', 'C2', 12.8), ('BLCA', 'C2', 5.0), ('BLCA', 'C2', 3.8), ('BLCA', 'C4', 4.6),
    ('BRCA', 'C1', 12.2), ('BRCA', 'C1', 11.5), ('BRCA', 'C3', 12.5), ('BRCA', 'C3', 10.7),
    ('BRCA', 'C4', 9.7), ('BRCA', 'C4', 8.6), ('BRCA', 'C5', 9.2), ('CESC', 'C1', 11.3),
    ('CESC', 'C1', 10.3), ('CESC', 'C2', 10.5), ('CESC', 'C3', 10.0), ('COAD', 'C1', 4.7),
    ('COAD', 'C1', 4.3), ('COAD', 'C4', 0.2), ('COAD', 'C4', 0.5), ('ESCA', 'C4', 13.4),
    ('ESCA', 'C3', 4.7), ('ESCA', 'C3', 3.9), ('ESCA', 'C4', 3.2), ('HNSC', 'C2', 5.4),
    ('HNSC', 'C2', 4.6), ('HNSC', 'C2', 4.2), ('HNSC', 'C2', 3.5), ('HNSC', 'C2', 3.0),
    ('KIRC', 'C1', 6.2), ('KIRC', 'C1', 5.8), ('KIRC', 'C1', 5.4), ('KIRC', 'C2', 7.5),
    ('LIHC', 'C1', 11.1), ('LIHC', 'C1', 10.0), ('LIHC', 'C1', 9.3), ('LIHC', 'C1', 8.5),
    ('LIHC', 'C1', 7.7), ('LIHC', 'C1', 7.0), ('LIHC', 'C3', 10.0), ('LIHC', 'C3', 8.6),
    ('LIHC', 'C3', 5.0), ('LUAD', 'C1', 10.3), ('LUAD', 'C1', 9.7), ('LUAD', 'C1', 9.4),
    ('LUAD', 'C2', 8.8), ('LUAD', 'C2', 11.3), ('LUAD', 'C3', 8.7), ('LUAD', 'C4', 10.1),
    ('LUSC', 'C1', 3.7), ('LUSC', 'C1', 3.4), ('LUSC', 'C5', 14.4), ('LUSC', 'C5', 6.0),
    ('LUSC', 'C5', 5.4), ('OV', 'C2', 8.9), ('OV', 'C3', 3.0), ('OV', 'C3', 1.3),
    ('PAAD', 'C1', 9.0), ('PAAD', 'C1', 7.5), ('PCPG', 'C1', 8.5), ('PCPG', 'C1', 6.4),
    ('PCPG', 'C1', 5.1), ('PCPG', 'C2', 8.0), ('PCPG', 'C1', 8.9), ('PRAD', 'C1', 6.0),
    ('PRAD', 'C1', 5.2), ('PRAD', 'C3', 2.8), ('READ', 'C2', 7.0), ('SARC', 'C1', 10.4),
    ('SARC', 'C1', 9.6), ('SARC', 'C1', 8.2), ('SARC', 'C1', 7.6), ('SARC', 'C2', 8.2),
    ('SARC', 'C2', 7.0), ('SARC', 'C2', 6.4), ('SKCM', 'C1', 10.2), ('STAD', 'C2', 11.5),
    ('STAD', 'C1', 9.5), ('STAD', 'C2', 6.1), ('STAD', 'C3', 2.6), ('TGCT', 'C1', 3.0),
    ('THCA', 'C1', 6.7), ('THCA', 'C1', 6.1), ('THCA', 'C2', 7.4), ('THCA', 'C2', 6.8),
    ('THCA', 'C3', 7.0), ('THYM', 'C2', 9.6), ('UCEC', 'C1', 10.1), ('UCEC', 'C1', 9.5),
    ('UCEC', 'C2', 9.1), ('UCEC', 'C2', 8.5), ('UCEC', 'C2', 2.4), ('UCEC', 'C3', 1.5),
    ('UCEC', 'C3', 0.0), ('UCEC', 'C4', 0.0),
]

ALL_BOXES = [COL4A2_BOXES, COL4A3_BOXES, COL4A4_BOXES, COL4A5_BOXES, COL4A6_BOXES]
ALL_FLIERS = [COL4A2_FLIERS, COL4A3_FLIERS, COL4A4_FLIERS, COL4A5_FLIERS, COL4A6_FLIERS]

# axis settings per panel
YLIMS = [(6.5, 17.7), (-1.1, 13.4), (-0.55, 13.6), (-0.75, 15.6), (-1.15, 15.1)]
YTICKS = [[10, 15], [0, 5, 10], [0, 5, 10], [0, 5, 10, 15], [0, 5, 10, 15]]
AX_TOPS = [31, 353, 675, 998, 1323]
AX_BOTTOMS = [253, 574, 897, 1222, 1545]


# Functions
# Turn box summaries into a long table whose quartiles reproduce them
def boxes_to_frame(boxes):
    rows = []
    for cancer, groups in zip(CANCERS, boxes):
        for cluster, (lo, q1, med, q3, hi) in zip(CLUSTERS, groups):
            for v in (lo, q1, q1, med, q3, q3, hi):
                rows.append((cancer, cluster, v))
    return pd.DataFrame(rows, columns=['cancer', 'cluster', 'value'])


def plot_panel(ax, gene, boxes, fliers, ylim, yticks):
    df = boxes_to_frame(boxes)
    sns.boxplot(data=df, x='cancer', y='value', hue='cluster',
                order=CANCERS, hue_order=CLUSTERS, palette=COLORS,
                saturation=1, width=0.8, whis=(0, 100), fliersize=0,
                linewidth=0.6, linecolor='0.35', legend=False, ax=ax,
                whiskerprops=dict(color='0.65', linewidth=0.8),
                capprops=dict(color='0.65', linewidth=0.8),
                medianprops=dict(color='0.25', linewidth=0.6))

    fdf = pd.DataFrame(fliers, columns=['cancer', 'cluster', 'value'])
    sns.stripplot(data=fdf, x='cancer', y='value', hue='cluster',
                  order=CANCERS, hue_order=CLUSTERS,
                  palette={c: '0.15' for c in CLUSTERS},
                  dodge=True, jitter=False, size=2.2, linewidth=0,
                  legend=False, ax=ax)

    ax.set_ylim(*ylim)
    ax.set_yticks(yticks)
    ax.grid(False)
    ax.set_xlabel('')
    ax.set_ylabel('Expression (log2 RSEM)', fontsize=17, labelpad=3)
    ax.set_title(gene, fontsize=17, pad=2)
    ax.tick_params(axis='x', rotation=90, labelsize=17, length=0, pad=2)
    ax.tick_params(axis='y', labelsize=17, length=0, pad=2)
    for spine in ax.spines.values():
        spine.set_color('0.78')
        spine.set_linewidth(1.3)

    handles = [Patch(facecolor=c, edgecolor='0.5', linewidth=0.5, label=l)
               for c, l in zip(COLORS, CLUSTERS)]
    ax.legend(handles=handles, loc='center left', bbox_to_anchor=(1.009, 0.5),
              borderaxespad=0, fontsize=11, handlelength=1.85, handleheight=0.65,
              handletextpad=0.6, labelspacing=0.35, borderpad=0.5,
              frameon=True, edgecolor='0.85')


sns.set_style('whitegrid')
plt.rcParams['font.family'] = ['Liberation Sans', 'DejaVu Sans']
plt.rcParams['text.color'] = '0.1'
plt.rcParams['xtick.color'] = '0.1'
plt.rcParams['ytick.color'] = '0.1'
plt.rcParams['axes.labelcolor'] = '0.1'

W, H = 1003, 1617
fig = plt.figure(figsize=(W / 100, H / 100), dpi=100)

for i, gene in enumerate(GENES):
    top, bottom = AX_TOPS[i], AX_BOTTOMS[i]
    ax = fig.add_axes([70 / W, 1 - bottom / H, 857 / W, (bottom - top) / H])
    plot_panel(ax, gene, ALL_BOXES[i], ALL_FLIERS[i], YLIMS[i], YTICKS[i])

fig.savefig('out.png', dpi=100)
